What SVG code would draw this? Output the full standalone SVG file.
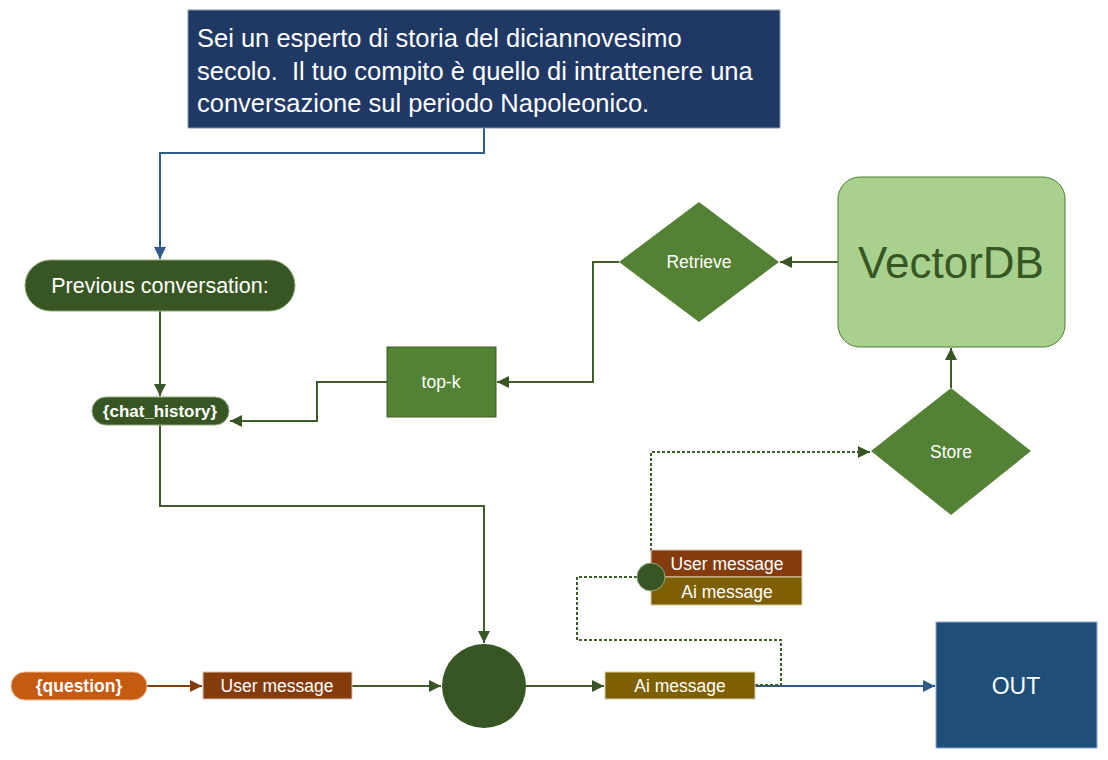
<svg xmlns="http://www.w3.org/2000/svg" width="1108" height="760" viewBox="0 0 1108 760">
<defs>
<style>
text{font-family:"Liberation Sans","Open Sans",sans-serif;fill:#fff;text-anchor:middle}
.g{stroke:#3d5e27;stroke-width:2;fill:none}
.b{stroke:#2e5b8a;stroke-width:2;fill:none}
.d{stroke:#3d5e27;stroke-width:2;fill:none;stroke-dasharray:3 2}
</style>
<marker id="ag" viewBox="0 0 10 10" refX="10" refY="5" markerWidth="6" markerHeight="6" orient="auto" markerUnits="strokeWidth"><path d="M0,0L10,5L0,10z" fill="#375623"/></marker>
<marker id="ab" viewBox="0 0 10 10" refX="10" refY="5" markerWidth="6" markerHeight="6" orient="auto" markerUnits="strokeWidth"><path d="M0,0L10,5L0,10z" fill="#2e5b8a"/></marker>
<marker id="ar" viewBox="0 0 10 10" refX="10" refY="5" markerWidth="6" markerHeight="6" orient="auto" markerUnits="strokeWidth"><path d="M0,0L10,5L0,10z" fill="#843c0c"/></marker>
</defs>
<rect width="1108" height="760" fill="#fff"/>
<g id="connectors">
<path class="b" d="M484,128V153H160V259" marker-end="url(#ab)"/>
<path class="g" d="M160,311V396" marker-end="url(#ag)"/>
<path class="g" d="M387,382H317V421H230" marker-end="url(#ag)"/>
<path class="g" d="M619,262H593V382H497" marker-end="url(#ag)"/>
<path class="g" d="M838,262H780" marker-end="url(#ag)"/>
<path class="g" d="M951,388V348" marker-end="url(#ag)"/>
<path class="g" d="M160,425V506H484V643" marker-end="url(#ag)"/>
<path d="M147,686H202" stroke="#843c0c" stroke-width="2" fill="none" marker-end="url(#ar)"/>
<path class="g" d="M352,686H441" marker-end="url(#ag)"/>
<path class="g" d="M526,686H604" marker-end="url(#ag)"/>
<path class="b" d="M755,686H935" marker-end="url(#ab)"/>
<path class="d" d="M755,685H781V640H577V577H637"/>
<path class="d" d="M651,551V452H870" marker-end="url(#ag)"/>
</g>
<g id="system">
<rect x="188" y="10" width="592" height="118" fill="#203864" stroke="#8497b0" stroke-width="1"/>
<text x="197" y="47" font-size="25.5" style="text-anchor:start">Sei un esperto di storia del diciannovesimo</text>
<text x="197" y="80" font-size="25.5" style="text-anchor:start" xml:space="preserve">secolo.  Il tuo compito è quello di intrattenere una</text>
<text x="197" y="112" font-size="25.5" style="text-anchor:start">conversazione sul periodo Napoleonico.</text>
</g>
<g id="previous">
<rect x="25" y="260" width="270" height="51" rx="25.5" fill="#375623" stroke="#8faa7a" stroke-width="1"/>
<text x="160" y="293" font-size="21.5">Previous conversation:</text>
</g>
<g id="chat_history">
<rect x="92" y="397" width="137" height="28" rx="14" fill="#375623" stroke="#8faa7a" stroke-width="1"/>
<text x="160" y="417" font-size="17" font-weight="bold">{chat_history}</text>
</g>
<g id="topk">
<rect x="387" y="347" width="109" height="70" fill="#548235" stroke="#3d5e27" stroke-width="1"/>
<text x="441" y="388" font-size="17.5">top-k</text>
</g>
<g id="retrieve">
<polygon points="699,202 779,262 699,322 619,262" fill="#548235"/>
<text x="699" y="268" font-size="17.5">Retrieve</text>
</g>
<g id="vectordb">
<rect x="838" y="177" width="227" height="170" rx="22" fill="#a9d18e" stroke="#4f7a33" stroke-width="1"/>
<text x="951" y="278" font-size="44" style="fill:#375623">VectorDB</text>
</g>
<g id="store">
<polygon points="951,388 1031,451 951,515 871,451" fill="#548235"/>
<text x="951" y="458" font-size="17.5">Store</text>
</g>
<g id="memory">
<rect x="651" y="550" width="151" height="27" fill="#843c0c" stroke="#d9c2b0" stroke-width="1"/>
<text x="727" y="570" font-size="17.5">User message</text>
<rect x="651" y="577" width="151" height="28" fill="#7f6000" stroke="#d9d0a8" stroke-width="1"/>
<text x="727" y="598" font-size="17.5">Ai message</text>
<circle cx="651" cy="577" r="14" fill="#375623" stroke="#8faa7a" stroke-width="1"/>
</g>
<g id="question">
<rect x="11" y="672" width="136" height="28" rx="14" fill="#c55a11" stroke="#f0b890" stroke-width="1"/>
<text x="79" y="692" font-size="17.5" font-weight="bold">{question}</text>
</g>
<g id="user_message">
<rect x="203" y="672" width="149" height="27" fill="#843c0c" stroke="#d9c2b0" stroke-width="1"/>
<text x="277" y="692" font-size="17.5">User message</text>
</g>
<g id="merge">
<circle cx="484" cy="686" r="42" fill="#375623"/>
</g>
<g id="ai_message">
<rect x="605" y="672" width="150" height="27" fill="#7f6000" stroke="#d9d0a8" stroke-width="1"/>
<text x="680" y="692" font-size="17.5">Ai message</text>
</g>
<g id="out">
<rect x="936" y="622" width="161" height="126" fill="#1f4e79" stroke="#8faadc" stroke-width="1"/>
<text x="1016" y="694" font-size="23">OUT</text>
</g>
</svg>
